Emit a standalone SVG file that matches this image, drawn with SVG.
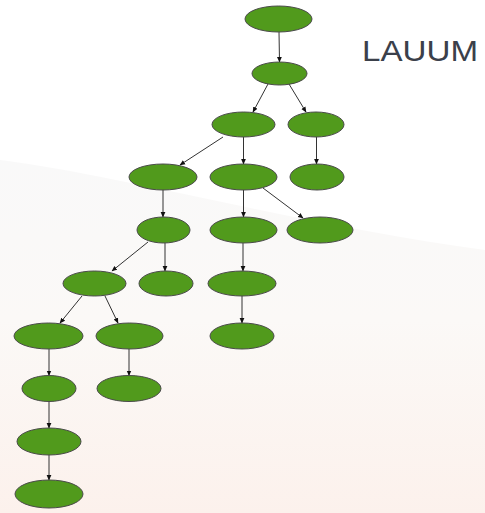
<svg xmlns="http://www.w3.org/2000/svg" width="485" height="513" viewBox="0 0 485 513">
  <defs>
    <linearGradient id="bgWarm" x1="0" y1="0" x2="0" y2="1">
      <stop offset="0" stop-color="#f9f9f9"/>
      <stop offset="0.45" stop-color="#fbf9f7"/>
      <stop offset="1" stop-color="#fcf1ec"/>
    </linearGradient>
    <marker id="arrow" markerWidth="6" markerHeight="6" refX="5" refY="3" orient="auto" markerUnits="userSpaceOnUse">
      <path d="M0,0.6 L5.5,3 L0,5.4 z" fill="#111"/>
    </marker>
    <style>
      .node ellipse { fill: #519a1c; stroke: #4a4a4a; stroke-width: 1; }
      .edge { stroke: #333; stroke-width: 1; fill: none; marker-end: url(#arrow); }
      .title { font-family: "Liberation Sans", Arial, sans-serif; font-size: 30px; fill: #3b404a; }
    </style>
  </defs>

  <!-- backdrop: white top, warm tint sweeping across the lower part -->
  <rect x="0" y="0" width="485" height="513" fill="#ffffff"/>
  <path d="M0,160 C120,175 300,225 485,250 L485,513 L0,513 z" fill="url(#bgWarm)"/>

  <text class="title" x="362" y="61" textLength="116" lengthAdjust="spacingAndGlyphs">LAUUM</text>

  <g id="edges">
    <line class="edge" x1="279" y1="32" x2="279.5" y2="62"/>
    <line class="edge" x1="268" y1="84" x2="253" y2="112"/>
    <line class="edge" x1="289" y1="84" x2="306" y2="112"/>
    <line class="edge" x1="223" y1="137" x2="180" y2="165"/>
    <line class="edge" x1="243.5" y1="137" x2="243.5" y2="164"/>
    <line class="edge" x1="316.5" y1="137" x2="316.5" y2="164"/>
    <line class="edge" x1="163" y1="190" x2="163" y2="217"/>
    <line class="edge" x1="243.5" y1="190" x2="243.5" y2="217"/>
    <line class="edge" x1="263" y1="188" x2="303" y2="218"/>
    <line class="edge" x1="148" y1="242" x2="112" y2="271"/>
    <line class="edge" x1="165" y1="243" x2="165" y2="271"/>
    <line class="edge" x1="243" y1="243" x2="243" y2="271"/>
    <line class="edge" x1="82" y1="296" x2="60" y2="323"/>
    <line class="edge" x1="105" y1="296" x2="118" y2="323"/>
    <line class="edge" x1="242" y1="296" x2="242" y2="323"/>
    <line class="edge" x1="49" y1="349" x2="49" y2="375.5"/>
    <line class="edge" x1="129" y1="349" x2="129" y2="375.5"/>
    <line class="edge" x1="49" y1="401.5" x2="49" y2="428"/>
    <line class="edge" x1="49" y1="455" x2="49" y2="480"/>
  </g>

  <g id="n1" class="node"><ellipse cx="278.5" cy="19" rx="33.5" ry="13"/></g>
  <g id="n2" class="node"><ellipse cx="279.5" cy="73.5" rx="27.5" ry="11.5"/></g>
  <g id="n3" class="node"><ellipse cx="243.5" cy="124.5" rx="31.5" ry="12.5"/></g>
  <g id="n4" class="node"><ellipse cx="316" cy="124.5" rx="28" ry="12.5"/></g>
  <g id="n5" class="node"><ellipse cx="163" cy="177" rx="34" ry="13"/></g>
  <g id="n6" class="node"><ellipse cx="243.5" cy="177" rx="33.5" ry="13"/></g>
  <g id="n7" class="node"><ellipse cx="317" cy="177" rx="27" ry="13"/></g>
  <g id="n8" class="node"><ellipse cx="163.5" cy="230" rx="26.5" ry="13"/></g>
  <g id="n9" class="node"><ellipse cx="243.5" cy="230" rx="33.5" ry="13"/></g>
  <g id="n10" class="node"><ellipse cx="320" cy="230" rx="33" ry="13"/></g>
  <g id="n11" class="node"><ellipse cx="94.5" cy="283.5" rx="31.5" ry="12.5"/></g>
  <g id="n12" class="node"><ellipse cx="166" cy="283.5" rx="27" ry="12.5"/></g>
  <g id="n13" class="node"><ellipse cx="242" cy="283.5" rx="34" ry="12.5"/></g>
  <g id="n14" class="node"><ellipse cx="48.5" cy="336" rx="34.5" ry="13"/></g>
  <g id="n15" class="node"><ellipse cx="129.5" cy="336" rx="33.5" ry="13"/></g>
  <g id="n16" class="node"><ellipse cx="242" cy="336" rx="32" ry="13"/></g>
  <g id="n17" class="node"><ellipse cx="49" cy="388.5" rx="27" ry="13"/></g>
  <g id="n18" class="node"><ellipse cx="129" cy="388.5" rx="32" ry="13"/></g>
  <g id="n19" class="node"><ellipse cx="49" cy="441.5" rx="32" ry="13.5"/></g>
  <g id="n20" class="node"><ellipse cx="49" cy="494" rx="34" ry="14"/></g>
</svg>
